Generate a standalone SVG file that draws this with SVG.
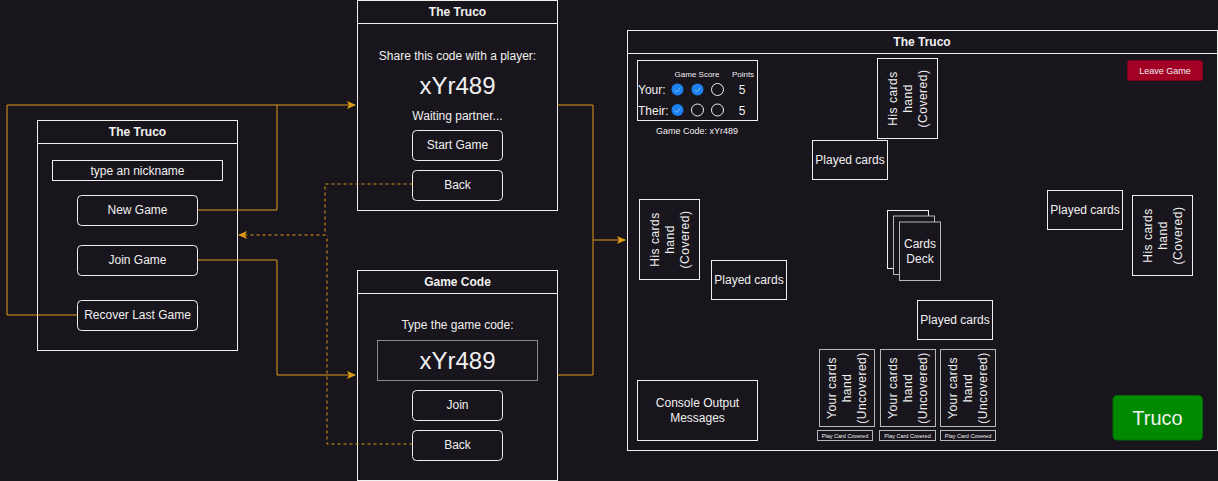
<svg xmlns="http://www.w3.org/2000/svg" width="1218" height="481" viewBox="0 0 1218 481">
<defs>
<marker id="arr" markerWidth="10" markerHeight="8" refX="8" refY="4" orient="auto" markerUnits="userSpaceOnUse">
<path d="M0,0 L9,4 L0,8 L2,4 Z" fill="#dc9b1a"/>
</marker>
<style>
.bg{fill:#18151c}
.box{fill:#18151c;stroke:#f0f0f0;stroke-width:1}
.gbox{fill:#18151c;stroke:#b8b8b8;stroke-width:1}
.t{font-family:"Liberation Sans",Arial,sans-serif;fill:#f0f0f0;text-anchor:middle}
.b{font-weight:bold}
.s12{font-size:12px}
.s11{font-size:11px}
.con{fill:none;stroke:#dc9b1a;stroke-width:1}
.dash{stroke-dasharray:3,3}
.rot{font-family:"Liberation Sans",Arial,sans-serif;fill:#f0f0f0;text-anchor:middle;font-size:12px;letter-spacing:0.5px}
</style>
</defs>
<rect class="bg" x="0" y="0" width="1218" height="481"/>

<g id="home">
<rect class="box" x="37.5" y="120.5" width="200" height="230"/>
<line x1="37.5" y1="143.5" x2="237.5" y2="143.5" stroke="#f0f0f0"/>
<text class="t b s12" x="137.5" y="136">The Truco</text>
</g>
<g id="nickname">
<rect class="box" x="52.5" y="160.5" width="170" height="20"/>
<text class="t s12" x="137.5" y="174.5">type an nickname</text>
</g>
<g id="btn-new-game">
<rect class="box" x="77.5" y="195.5" width="120" height="30" rx="4"/>
<text class="t s12" x="137.5" y="214">New Game</text>
</g>
<g id="btn-join-game">
<rect class="box" x="77.5" y="245.5" width="120" height="30" rx="4"/>
<text class="t s12" x="137.5" y="264">Join Game</text>
</g>
<g id="btn-recover">
<rect class="box" x="77.5" y="300.5" width="120" height="30" rx="4"/>
<text class="t s12" x="137.5" y="319">Recover Last Game</text>
</g>

<g id="share">
<rect class="box" x="357.5" y="0.5" width="200" height="210"/>
<line x1="357.5" y1="23.5" x2="557.5" y2="23.5" stroke="#f0f0f0"/>
<text class="t b s12" x="457.5" y="16">The Truco</text>
<text class="t s12" x="457.5" y="59.5">Share this code with a player:</text>
<text class="t" x="457.5" y="94" font-size="24">xYr489</text>
<text class="t s12" x="457.5" y="119.5">Waiting partner...</text>
</g>
<g id="btn-start">
<rect class="box" x="412.5" y="130.5" width="90" height="30" rx="4"/>
<text class="t s12" x="457.5" y="149">Start Game</text>
</g>
<g id="btn-back1">
<rect class="box" x="412.5" y="170.5" width="90" height="30" rx="4"/>
<text class="t s12" x="457.5" y="189">Back</text>
</g>

<g id="gamecode">
<rect class="box" x="357.5" y="270.5" width="200" height="210"/>
<line x1="357.5" y1="293.5" x2="557.5" y2="293.5" stroke="#f0f0f0"/>
<text class="t b s12" x="457.5" y="286">Game Code</text>
<text class="t s12" x="457.5" y="328.5">Type the game code:</text>
<rect x="377.5" y="340.5" width="160" height="40" fill="#18151c" stroke="#8a8a8a"/>
<text class="t" x="457.5" y="369" font-size="24">xYr489</text>
</g>
<g id="btn-join">
<rect class="box" x="412.5" y="390.5" width="90" height="30" rx="4"/>
<text class="t s12" x="457.5" y="409">Join</text>
</g>
<g id="btn-back2">
<rect class="box" x="412.5" y="430.5" width="90" height="30" rx="4"/>
<text class="t s12" x="457.5" y="449">Back</text>
</g>

<g id="game">
<rect class="box" x="627.5" y="30.5" width="590" height="420"/>
<line x1="627.5" y1="53.5" x2="1217.5" y2="53.5" stroke="#f0f0f0"/>
<text class="t b s12" x="922" y="46">The Truco</text>
</g>
<g id="score">
<rect class="box" x="637.5" y="60.5" width="120" height="60"/>
<text class="t" x="697" y="77" font-size="8">Game Score</text>
<text class="t" x="743" y="77" font-size="8">Points</text>
<text class="t s12" x="638" y="94" style="text-anchor:start">Your:</text>
<text class="t s12" x="638" y="114.5" style="text-anchor:start">Their:</text>
<circle cx="677.5" cy="89.5" r="6" fill="#1a82f0"/>
<circle cx="697.5" cy="89.5" r="6" fill="#1a82f0"/>
<circle cx="717.5" cy="89.5" r="6" fill="none" stroke="#f0f0f0"/>
<circle cx="677.5" cy="110" r="6" fill="#1a82f0"/>
<circle cx="697.5" cy="110" r="6" fill="none" stroke="#f0f0f0"/>
<circle cx="717.5" cy="110" r="6" fill="none" stroke="#f0f0f0"/>
<path d="M674.5,90 L676.8,92 L680.5,87.5 M694.5,90 L696.8,92 L700.5,87.5 M674.5,110.5 L676.8,112.5 L680.5,108" fill="none" stroke="#7fb8f5" stroke-width="1"/>
<text class="t s12" x="742" y="94">5</text>
<text class="t s12" x="742" y="114.5">5</text>
<text class="t" x="697" y="134" font-size="9">Game Code: xYr489</text>
</g>
<g id="btn-leave">
<rect x="1127.5" y="60.5" width="75" height="20" rx="2" fill="#a20025" stroke="#7a001c"/>
<text class="t" x="1165" y="74" font-size="9">Leave Game</text>
</g>
<g id="his-top">
<rect class="box" x="877.5" y="58.5" width="60" height="80"/>
<text class="rot" transform="translate(907.5,98.5) rotate(-90)"><tspan x="0" y="-11">His cards</tspan><tspan x="0" y="4">hand</tspan><tspan x="0" y="19">(Covered)</tspan></text>
</g>
<g id="played-top">
<rect class="box" x="812.5" y="140.5" width="75" height="39"/>
<text class="t s12" x="850" y="164">Played cards</text>
</g>
<g id="played-right">
<rect class="box" x="1047.5" y="190.5" width="75" height="39"/>
<text class="t s12" x="1085" y="214">Played cards</text>
</g>
<g id="his-right">
<rect class="box" x="1132.5" y="195.5" width="60" height="80"/>
<text class="rot" transform="translate(1162.5,235.5) rotate(-90)"><tspan x="0" y="-11">His cards</tspan><tspan x="0" y="4">hand</tspan><tspan x="0" y="19">(Covered)</tspan></text>
</g>
<g id="his-left">
<rect class="box" x="639.5" y="199.5" width="60" height="80"/>
<text class="rot" transform="translate(669.5,239.5) rotate(-90)"><tspan x="0" y="-11">His cards</tspan><tspan x="0" y="4">hand</tspan><tspan x="0" y="19">(Covered)</tspan></text>
</g>
<g id="played-left">
<rect class="box" x="711.5" y="260.5" width="75" height="39"/>
<text class="t s12" x="749" y="284">Played cards</text>
</g>
<g id="deck">
<rect class="box" x="887.5" y="210.5" width="41" height="58"/>
<rect class="gbox" x="893.5" y="216" width="41" height="58.5"/>
<rect class="gbox" x="899.5" y="222" width="41" height="58.5"/>
<text class="t s12" x="920" y="248">Cards</text>
<text class="t s12" x="920" y="263">Deck</text>
</g>
<g id="played-bottom">
<rect class="box" x="917.5" y="300.5" width="75" height="39"/>
<text class="t s12" x="955" y="324">Played cards</text>
</g>
<g id="console">
<rect class="box" x="637.5" y="380.5" width="120" height="60"/>
<text class="t s12" x="697.5" y="407">Console Output</text>
<text class="t s12" x="697.5" y="422">Messages</text>
</g>
<g id="your-1">
<rect class="gbox" x="819.5" y="349.5" width="55" height="77"/>
<text class="rot" transform="translate(847,388) rotate(-90)"><tspan x="0" y="-11">Your cards</tspan><tspan x="0" y="4">hand</tspan><tspan x="0" y="19">(Uncovered)</tspan></text>
</g>
<g id="your-2">
<rect class="gbox" x="880.5" y="349.5" width="55" height="77"/>
<text class="rot" transform="translate(908,388) rotate(-90)"><tspan x="0" y="-11">Your cards</tspan><tspan x="0" y="4">hand</tspan><tspan x="0" y="19">(Uncovered)</tspan></text>
</g>
<g id="your-3">
<rect class="gbox" x="940.5" y="349.5" width="55" height="77"/>
<text class="rot" transform="translate(968,388) rotate(-90)"><tspan x="0" y="-11">Your cards</tspan><tspan x="0" y="4">hand</tspan><tspan x="0" y="19">(Uncovered)</tspan></text>
</g>
<g id="play-covered-1">
<rect class="gbox" x="817.5" y="430.5" width="55" height="10"/>
<text class="t" x="845" y="437.5" font-size="5.5">Play Card Covered</text>
</g>
<g id="play-covered-2">
<rect class="gbox" x="879.5" y="430.5" width="56" height="10"/>
<text class="t" x="907.5" y="437.5" font-size="5.5">Play Card Covered</text>
</g>
<g id="play-covered-3">
<rect class="gbox" x="940.5" y="430.5" width="55" height="10"/>
<text class="t" x="968" y="437.5" font-size="5.5">Play Card Covered</text>
</g>
<g id="btn-truco">
<rect x="1113" y="395.5" width="89.5" height="44.5" rx="4" fill="#008a00" stroke="#006e00"/>
<text class="t" x="1157.5" y="425" font-size="20">Truco</text>
</g>

<g id="connectors">
<polyline class="con" points="197.5,210 277,210 277,105 355,105" marker-end="url(#arr)"/>
<polyline class="con" points="77.5,315 7,315 7,105 277,105"/>
<polyline class="con" points="197.5,260 277,260 277,375 355,375" marker-end="url(#arr)"/>
<polyline class="con dash" points="412.5,184 325,184 325,235 239,235" marker-end="url(#arr)"/>
<polyline class="con dash" points="412.5,444 327,444 327,235"/>
<polyline class="con" points="557.5,105 593,105 593,240 625,240" marker-end="url(#arr)"/>
<polyline class="con" points="557.5,375 593,375 593,240"/>
</g>
</svg>
